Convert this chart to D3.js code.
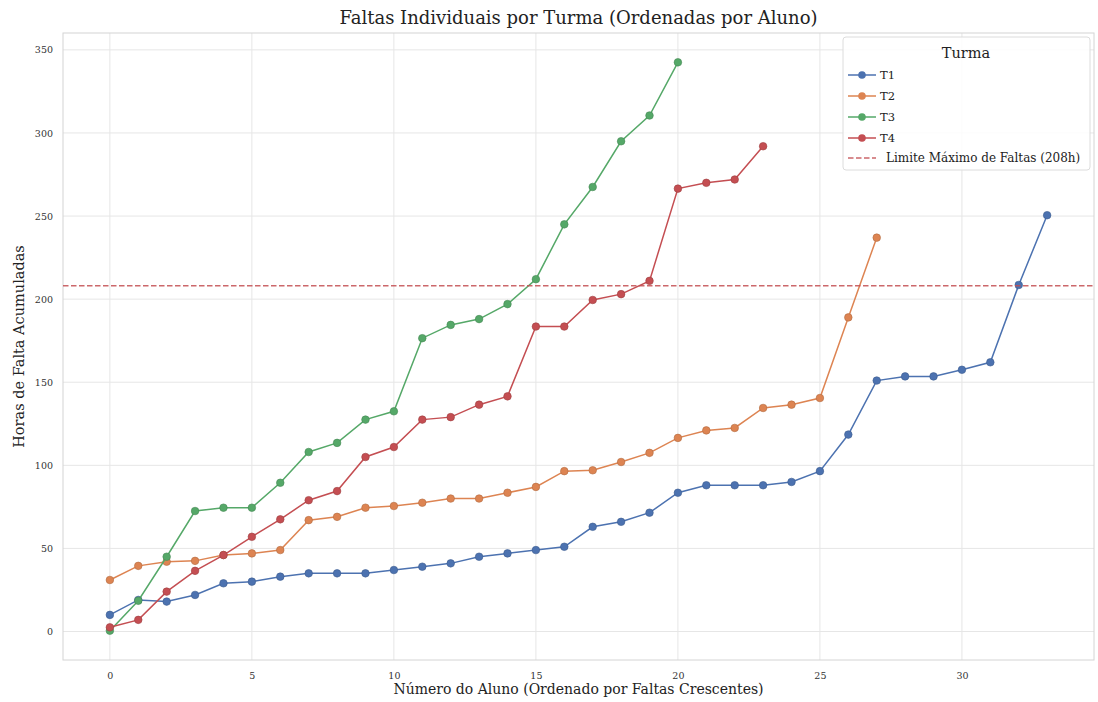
<!DOCTYPE html>
<html><head><meta charset="utf-8">
<script src="https://cdn.jsdelivr.net/npm/d3@7"></script>
<style>body{margin:0;background:#fff;}svg text{font-family:"DejaVu Serif",serif;}</style>
</head><body>
<script>
const turmas = ["T1","T2","T3","T4"];
const t1 = [10,19,18,22,29,30,33,35,35,35,37,39,41,45,47,49,51,63,66,71.5,83.5,88,88,88,90,96.5,118.5,151,153.5,153.5,157.5,162,208.5,250.5];
const t2 = [31,39.5,42,42.5,46,47,49,67,69,74.5,75.5,77.5,80,80,83.5,87,96.5,97,102,107.5,116.5,121,122.5,134.5,136.5,140.5,189,237];
const t3 = [0.5,18.5,45,72.5,74.5,74.5,89.5,108,113.5,127.5,132.5,176.5,184.5,188,197,212,245,267.5,295,310.5,342.5];
const t4 = [2.5,7,24,36.5,46,57,67.5,79,84.5,105,111,127.5,129,136.5,141.5,183.5,183.5,199.5,203,211,266.5,270,272,292];
const seriesVals = [t1,t2,t3,t4];
const colors = ["#4c72b0","#dd8452","#55a868","#c44e52"];
const limite = 208;
const xTicks = [0,5,10,15,20,25,30];
const yTicks = [0,50,100,150,200,250,300,350];
const title = "Faltas Individuais por Turma (Ordenadas por Aluno)";
const xLabel = "Número do Aluno (Ordenado por Faltas Crescentes)";
const yLabel = "Horas de Falta Acumuladas";
const limiteLabel = "Limite Máximo de Faltas (208h)";

const W=1098,H=702;
const m={l:63,r:4,t:33,b:42};
const svg=d3.select("body").append("svg").attr("width",W).attr("height",H);
const x=d3.scaleLinear().domain([-1.65,34.65]).range([m.l,W-m.r]);
const y=d3.scaleLinear().domain([-17.15,360.15]).range([H-m.b,m.t]);

// grid
svg.append("g").selectAll("line").data(xTicks).join("line")
  .attr("x1",d=>x(d)).attr("x2",d=>x(d)).attr("y1",m.t).attr("y2",H-m.b)
  .attr("stroke","#e6e6e6").attr("stroke-width",1);
svg.append("g").selectAll("line").data(yTicks).join("line")
  .attr("y1",d=>y(d)).attr("y2",d=>y(d)).attr("x1",m.l).attr("x2",W-m.r)
  .attr("stroke","#e6e6e6").attr("stroke-width",1);
svg.append("rect").attr("x",m.l).attr("y",m.t).attr("width",W-m.r-m.l).attr("height",H-m.b-m.t)
  .attr("fill","none").attr("stroke","#d4d4d4").attr("stroke-width",1);

// axes
const xa=svg.append("g").attr("transform",`translate(0,${H-m.b})`)
  .call(d3.axisBottom(x).tickValues(xTicks).tickSize(0).tickPadding(12));
xa.select(".domain").remove();
xa.selectAll("text").attr("font-size",9.5).attr("fill","#333").attr("font-family","DejaVu Serif");
const ya=svg.append("g").attr("transform",`translate(${m.l},0)`)
  .call(d3.axisLeft(y).tickValues(yTicks).tickSize(0).tickPadding(10));
ya.select(".domain").remove();
ya.selectAll("text").attr("font-size",9.5).attr("fill","#333").attr("font-family","DejaVu Serif");

// lines
const line=d3.line().x((d,i)=>x(i)).y(d=>y(d));
seriesVals.forEach((vals,k)=>{
  const g=svg.append("g");
  g.append("path").datum(vals).attr("d",line).attr("fill","none").attr("stroke",colors[k]).attr("stroke-width",1.5);
  g.selectAll("circle").data(vals).join("circle").attr("cx",(d,i)=>x(i)).attr("cy",d=>y(d)).attr("r",3.8)
    .attr("fill",colors[k]).attr("stroke",d3.color(colors[k]).darker(0.6)).attr("stroke-width",0.6);
});

// threshold
svg.append("line").attr("x1",m.l).attr("x2",W-m.r).attr("y1",y(limite)).attr("y2",y(limite))
  .attr("stroke","#c44e52").attr("stroke-width",1.5).attr("stroke-dasharray","5.5,2.5").attr("opacity",0.85);

// title & labels
svg.append("text").attr("x",(m.l+W-m.r)/2).attr("y",24).attr("text-anchor","middle")
  .attr("font-size",18).attr("fill","#222").text(title);
svg.append("text").attr("x",(m.l+W-m.r)/2).attr("y",694).attr("text-anchor","middle")
  .attr("font-size",14).attr("fill","#222").text(xLabel);
svg.append("text").attr("transform",`translate(24,${(m.t+H-m.b)/2}) rotate(-90)`).attr("text-anchor","middle")
  .attr("font-size",14.5).attr("fill","#222").text(yLabel);

// legend
const lg=svg.append("g");
lg.append("rect").attr("x",843).attr("y",37).attr("width",247).attr("height",133).attr("rx",3)
  .attr("fill","#fff").attr("fill-opacity",0.85).attr("stroke","#dcdcdc");
lg.append("text").attr("x",966).attr("y",58).attr("text-anchor","middle").attr("font-size",14.5).attr("fill","#222").text("Turma");
turmas.forEach((t,k)=>{
  const yy=75+k*21;
  lg.append("line").attr("x1",848).attr("x2",876).attr("y1",yy).attr("y2",yy).attr("stroke",colors[k]).attr("stroke-width",1.5);
  lg.append("circle").attr("cx",862).attr("cy",yy).attr("r",3.8).attr("fill",colors[k]);
  lg.append("text").attr("x",880).attr("y",yy+4).attr("font-size",11.5).attr("fill","#222").text(t);
});
lg.append("line").attr("x1",848).attr("x2",876).attr("y1",158).attr("y2",158).attr("stroke","#c44e52")
  .attr("stroke-width",1.5).attr("stroke-dasharray","5.5,2.5").attr("opacity",0.85);
lg.append("text").attr("x",886).attr("y",162).attr("font-size",12).attr("fill","#222").text(limiteLabel);
</script>
</body></html>
